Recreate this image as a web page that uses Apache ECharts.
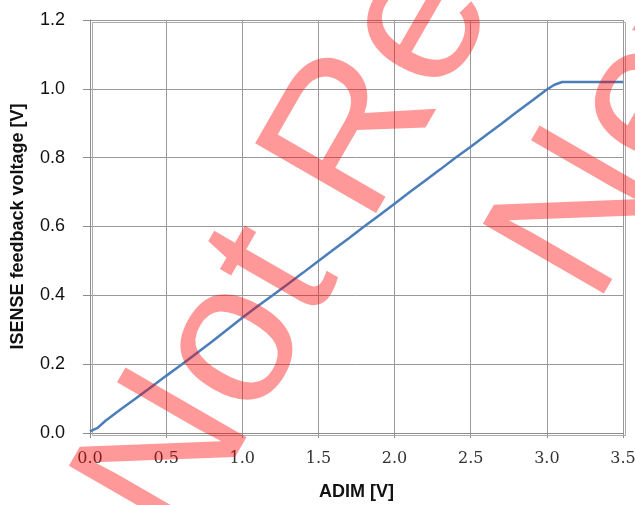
<!DOCTYPE html>
<html><head><meta charset="utf-8">
<script src="https://cdn.jsdelivr.net/npm/echarts@6/dist/echarts.min.js"></script>
<style>html,body{margin:0;padding:0;background:#fff}#c{width:635px;height:505px}</style>
</head><body><div id="c"></div>
<script>
var adimV = [0, 0.05, 0.1, 0.2, 0.3, 0.4, 0.5, 0.6, 0.7, 0.8, 0.9, 1.0, 1.1, 1.2, 1.3, 1.4, 1.5, 1.6, 1.7, 1.8, 1.9, 2.0, 2.1, 2.2, 2.3, 2.4, 2.5, 2.6, 2.7, 2.8, 2.9, 3.0, 3.05, 3.1, 3.2, 3.3, 3.4, 3.5];
var isenseV = [0.005, 0.015, 0.035, 0.068, 0.1, 0.133, 0.166, 0.198, 0.232, 0.265, 0.3, 0.335, 0.368, 0.4, 0.433, 0.466, 0.5, 0.533, 0.566, 0.6, 0.633, 0.666, 0.7, 0.733, 0.766, 0.8, 0.832, 0.865, 0.898, 0.932, 0.965, 0.998, 1.012, 1.02, 1.02, 1.02, 1.02, 1.02];
var xTitle = 'ADIM [V]';
var yTitle = 'ISENSE feedback voltage [V]';
var watermark1 = 'Not Recommended for New Designs';
var watermark2 = 'New Designs';

var pts = adimV.map(function(x, i){ return [x, isenseV[i]]; });
var chart = echarts.init(document.getElementById('c'));
var wmStyle = function(t){ return {text: t, font: '203px "Liberation Sans", Arial, sans-serif', fill: 'rgba(255,0,0,0.4)', align: 'left', verticalAlign: 'middle'}; };
chart.setOption({
  animation: false,
  grid: {left: 90, right: 12, top: 20, bottom: 72, outerBoundsMode: 'none', containLabel: false},
  xAxis: {
    type: 'value', min: 0, max: 3.5, interval: 0.5,
    name: xTitle, nameLocation: 'middle', nameGap: 50,
    nameTextStyle: {fontFamily: '"Liberation Sans", Arial', fontWeight: 'bold', fontSize: 18, color: '#111'},
    axisLine: {show: true, lineStyle: {color: '#8c8c8c', width: 1}},
    axisTick: {show: true, inside: false, length: 5, lineStyle: {color: '#8c8c8c'}},
    axisLabel: {fontFamily: '"DejaVu Serif", serif', fontSize: 16, color: '#333', margin: 18,
      formatter: function(v){ return v.toFixed(1); }},
    splitLine: {show: true, lineStyle: {color: '#999', width: 1}}
  },
  yAxis: {
    type: 'value', min: 0, max: 1.2, interval: 0.2,
    name: yTitle, nameLocation: 'middle', nameGap: 63,
    nameTextStyle: {fontFamily: '"Liberation Sans", Arial', fontWeight: 'bold', fontSize: 18, color: '#111'},
    axisLine: {show: true, lineStyle: {color: '#8c8c8c', width: 1}},
    axisTick: {show: true, inside: false, length: 7, lineStyle: {color: '#8c8c8c'}},
    axisLabel: {fontFamily: '"Liberation Sans", Arial', fontSize: 18, color: '#111', margin: 25,
      formatter: function(v){ return v.toFixed(1); }},
    splitLine: {show: true, lineStyle: {color: '#999', width: 1}}
  },
  series: [{
    type: 'line', data: pts, showSymbol: false, smooth: false,
    lineStyle: {color: '#4a7ebb', width: 2.5}, z: 2
  }],
  graphic: [
    {type: 'rect', left: 90, top: 20, shape: {x: 0, y: 0, width: 533, height: 413}, style: {fill: 'none', stroke: '#aaa', lineWidth: 1}, silent: true, z: 1},
    {type: 'text', x: 133, y: 522, rotation: Math.PI / 3, style: wmStyle(watermark1), z: 100, silent: true},
    {type: 'text', x: 547, y: 280, rotation: Math.PI / 3, style: wmStyle(watermark2), z: 100, silent: true}
  ]
});
</script></body></html>
